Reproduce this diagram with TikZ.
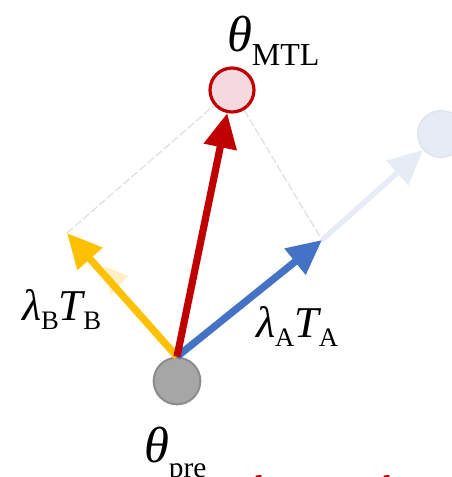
\documentclass[tikz,border=0pt]{standalone}
\usepackage{fontspec}
\setmainfont{Liberation Serif}
\usetikzlibrary{arrows.meta}
\definecolor{cred}{HTML}{C00000}
\definecolor{cblue}{HTML}{4472C4}
\definecolor{cyel}{HTML}{FFC000}
\definecolor{cpink}{HTML}{F6D9DE}
\definecolor{cgray}{HTML}{A6A6A6}
\definecolor{cgrayd}{HTML}{8C8C8C}
\definecolor{cfaint}{HTML}{E6EBF6}
\definecolor{cfaintd}{HTML}{DCE3F1}
\definecolor{cghost}{HTML}{FFF0C4}
\newcommand{\gsym}[1]{{\itshape #1}}
\newcommand{\lowsub}[3]{\raisebox{-#1}{\fontsize{#2}{#2}\selectfont #3}}
\tikzset{
  vec/.style={line width=5.4pt, -{Triangle[length=26pt,width=24pt]}},
  ptnode/.style={circle, minimum size=35pt, inner sep=0pt, line width=1.5pt},
  guide/.style={gray!25, line width=0.9pt, dash pattern=on 6pt off 2pt},
  lbl/.style={anchor=base west, inner sep=0pt, outer sep=0pt}
}
\begin{document}
\begin{tikzpicture}[x=0.75pt,y=-0.75pt]
\useasboundingbox (0,0) rectangle (452,477);
\fill[white] (0,0) rectangle (452,477);
% nodes
\node[ptnode, fill=cgray, draw=cgrayd] (pre) at (177,381) {};
\node[ptnode, fill=cpink, draw=cred, line width=2.4pt, minimum size=33pt] (mtl) at (232,90) {};
\node[ptnode, fill=cfaint, draw=cfaintd, line width=1pt] (faint) at (441,134) {};
\coordinate (btip) at (322,240);
\coordinate (ytip) at (67,233);
% guides
\draw[guide] (ytip) -- (mtl);
\draw[guide] (mtl) -- (btip);
% faint continuation
\draw[vec, draw=cfaint, fill=cfaint, line width=4pt] (btip) -- (faint);
% ghost yellow arrowhead
\fill[cghost] (104,266) -- (128,276) -- (111,295) -- cycle;
% vectors
\draw[vec, cyel] (pre.north) -- (ytip);
\draw[vec, cblue] (pre.north) -- (btip);
\draw[vec, cred] (pre.north) -- (mtl);
% labels
\node[lbl] (lmtl) at (227,52) {\fontsize{38}{38}\selectfont\gsym{θ}\lowsub{0.27em}{24}{MTL}};
\node[lbl] (lpre) at (144,462) {\fontsize{38}{38}\selectfont\gsym{θ}\lowsub{0.3em}{22}{pre}};
\node[lbl] (lb) at (22,320) {\fontsize{33}{33}\selectfont\gsym{λ}\lowsub{0.22em}{20}{B}\gsym{T}\lowsub{0.22em}{20}{B}};
\node[lbl] (la) at (256,337) {\fontsize{33}{33}\selectfont\gsym{λ}\lowsub{0.22em}{20}{A}\gsym{T}\lowsub{0.22em}{20}{A}};
% cut-off red fragments at the bottom edge
\begin{scope}
\clip (0,0) rectangle (452,477);
\fill[cred] (255,478) -- (256,475.5) -- (261,475) -- (262,478) -- cycle;
\fill[cred] (383,478) -- (384,475.5) -- (389,475) -- (390,478) -- cycle;
\end{scope}
\end{tikzpicture}
\end{document}
